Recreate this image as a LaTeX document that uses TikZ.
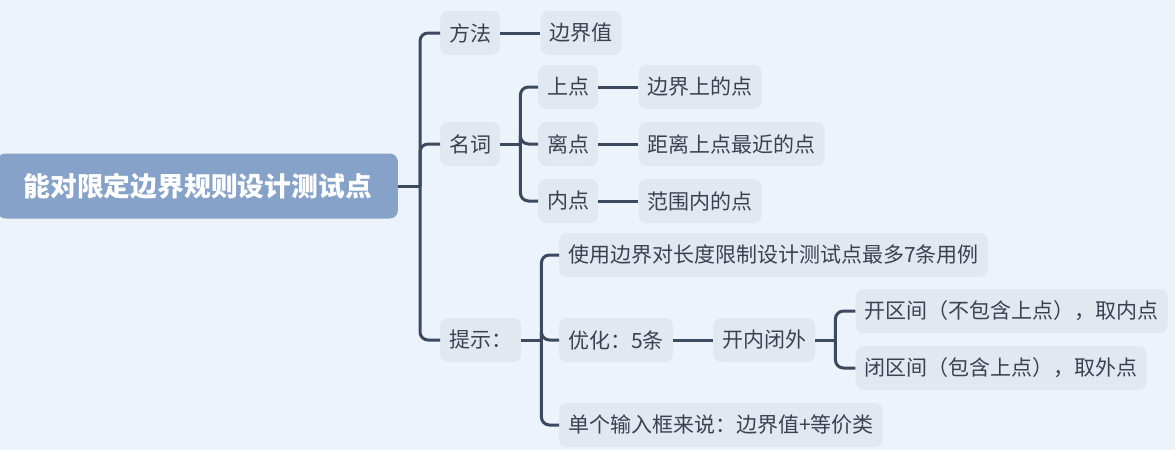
\documentclass[tikz,border=0pt]{standalone}
\usepackage{fontspec}
\setmainfont{Noto Sans CJK SC}
\usetikzlibrary{positioning}
\definecolor{bgcol}{HTML}{EDF3FA}
\definecolor{boxcol}{HTML}{E2E8F0}
\definecolor{rootcol}{HTML}{86A2C8}
\definecolor{linecol}{HTML}{3B4A61}
\definecolor{txtcol}{HTML}{3A4252}
\tikzset{
  topic/.style={fill=rootcol, rounded corners=8pt, inner xsep=26pt, minimum height=65pt,
    text=white, font=\fontsize{26.8pt}{32pt}\selectfont\bfseries},
  leaf/.style={fill=boxcol, rounded corners=8pt, inner xsep=9pt, minimum height=44pt,
    text=txtcol, font=\fontsize{21pt}{25pt}\selectfont},
  conn/.style={draw=linecol, line width=3pt, rounded corners=8pt}
}
\begin{document}
\begin{tikzpicture}[x=1pt,y=-1pt]
  \fill[bgcol] (0,0) rectangle (1175,450);
  \useasboundingbox (0,0) rectangle (1175,450);
  % root
  \node[topic, anchor=east] (root) at (398,186) {能对限定边界规则设计测试点};
  \coordinate[right=22pt of root.east] (j1);
  % first branch
  \node[leaf, anchor=west] (ff) at (440,33) {方法};
  \node[leaf, right=40pt of ff] (bjz) {边界值};
  % second branch
  \node[leaf, anchor=west] (mc) at (440,144) {名词};
  \coordinate[right=20pt of mc.east] (j2);
  \node[leaf, anchor=west] (sd) at (538,87) {上点};
  \node[leaf, anchor=west] (ld) at (538,144) {离点};
  \node[leaf, anchor=west] (nd) at (538,201) {内点};
  \node[leaf, right=40pt of sd] (sdx) {边界上的点};
  \node[leaf, right=40pt of ld] (ldx) {距离上点最近的点};
  \node[leaf, right=40pt of nd] (ndx) {范围内的点};
  % third branch
  \node[leaf, anchor=west] (ts) at (440,340) {提示：};
  \coordinate[right=20pt of ts.east] (j3);
  \node[leaf, anchor=west] (sy) at (559,255) {使用边界对长度限制设计测试点最多7条用例};
  \node[leaf, anchor=west] (yh) at (559,340) {优化：5条};
  \node[leaf, right=40pt of yh] (knbw) {开内闭外};
  \coordinate[right=20pt of knbw.east] (j4);
  \node[leaf, right=40pt of knbw, yshift=29pt] (kqj) {开区间（不包含上点），取内点};
  \node[leaf, right=40pt of knbw, yshift=-28pt] (bqj) {闭区间（包含上点），取外点};
  \node[leaf, anchor=west] (dg) at (559,425) {单个输入框来说：边界值+等价类};
  % connectors
  \foreach \a/\b in {root/j1, ff/bjz, mc/j2, sd/sdx, ld/ldx, nd/ndx, ts/j3, yh/knbw, knbw/j4}
    \draw[conn] (\a) -- (\b);
  \foreach \j/\c in {j1/ff, j1/mc, j1/ts, j2/sd, j2/ld, j2/nd, j3/sy, j3/yh, j3/dg, j4/kqj, j4/bqj}
    \draw[conn] (\j) |- (\c.west);
\end{tikzpicture}
\end{document}
